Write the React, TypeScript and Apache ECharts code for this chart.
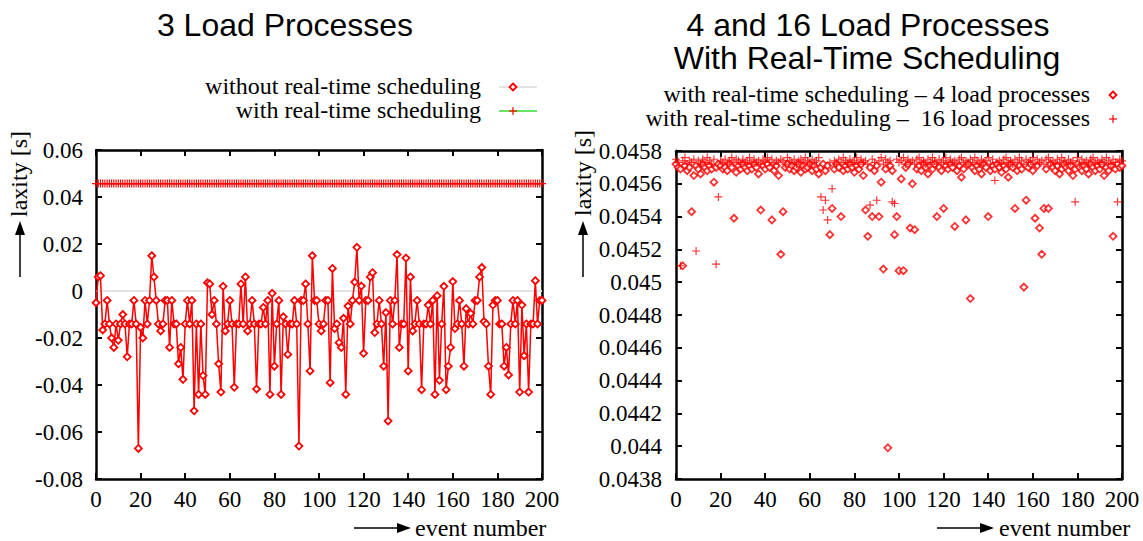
import React, { useEffect, useRef } from "react";
import * as echarts from "echarts";

// ---- Data ----
// Left chart: laxity [s] per event number 0..200, 3 load processes
const WITHOUT_RT_3 = [
  -0.005, 0.006, 0.0065, -0.0166, -0.014, -0.004, -0.014, -0.02, -0.024, -0.014,
  -0.021, -0.014, -0.01, -0.014, -0.028, -0.014, -0.014, -0.004, -0.014, -0.067,
  -0.0155, -0.02, -0.004, -0.014, -0.004, 0.015, 0.006, -0.004, -0.014, -0.017,
  -0.014, -0.004, -0.004, -0.024, -0.004, -0.014, -0.014, -0.031, -0.024, -0.0376,
  -0.014, -0.004, -0.014, -0.004, -0.051, -0.014, -0.044, -0.014, -0.036, -0.044,
  0.0035, 0.003, -0.01, -0.004, -0.014, -0.031, -0.043, 0.002, -0.017, -0.014,
  -0.004, -0.014, -0.041, -0.014, -0.014, 0.003, -0.014, 0.006, -0.017, -0.014,
  -0.004, -0.014, -0.0417, -0.014, -0.014, -0.007, -0.014, -0.004, -0.044, -0.001,
  -0.032, -0.014, -0.004, -0.044, -0.011, -0.014, -0.027, -0.014, -0.014, -0.004,
  -0.014, -0.066, -0.004, -0.004, 0.003, -0.014, -0.034, 0.015, -0.004, -0.004,
  -0.014, -0.017, -0.014, -0.004, -0.004, -0.039, 0.0096, -0.016, -0.014, -0.022,
  -0.024, -0.0116, -0.044, -0.0064, -0.014, -0.004, 0.0038, 0.0186, -0.004, 0.0021,
  -0.0265, -0.004, -0.004, 0.006, 0.0078, -0.0177, -0.014, -0.004, -0.014, -0.032,
  -0.0092, -0.0553, -0.004, -0.014, -0.004, 0.0155, -0.024, -0.014, -0.014, 0.014,
  -0.034, 0.006, -0.017, -0.014, -0.004, -0.014, -0.042, -0.014, -0.014, -0.006,
  -0.014, -0.004, -0.044, -0.002, -0.038, -0.014, 0.002, -0.042, -0.032, -0.024,
  0.004, -0.016, -0.014, -0.004, -0.014, -0.032, -0.0075, -0.014, -0.0095, -0.014,
  -0.004, -0.004, 0.006, 0.01, -0.013, -0.014, -0.032, -0.044, -0.006, -0.004,
  -0.004, -0.014, -0.014, -0.032, -0.024, -0.0357, -0.014, -0.004, -0.014, -0.004,
  -0.043, -0.006, -0.0275, -0.014, -0.043, -0.014, -0.014, 0.0044, -0.014, -0.004,
  -0.004,
];

const WITH_RT_3 = [
  0.0457, 0.0457, 0.0457, 0.0457, 0.0457, 0.0457, 0.0457, 0.0457, 0.0457, 0.0457,
  0.0457, 0.0457, 0.0457, 0.0457, 0.0457, 0.0457, 0.0457, 0.0457, 0.0457, 0.0457,
  0.0457, 0.0457, 0.0457, 0.0457, 0.0457, 0.0457, 0.0457, 0.0457, 0.0457, 0.0457,
  0.0457, 0.0457, 0.0457, 0.0457, 0.0457, 0.0457, 0.0457, 0.0457, 0.0457, 0.0457,
  0.0457, 0.0457, 0.0457, 0.0457, 0.0457, 0.0457, 0.0457, 0.0457, 0.0457, 0.0457,
  0.0457, 0.0457, 0.0457, 0.0457, 0.0457, 0.0457, 0.0457, 0.0457, 0.0457, 0.0457,
  0.0457, 0.0457, 0.0457, 0.0457, 0.0457, 0.0457, 0.0457, 0.0457, 0.0457, 0.0457,
  0.0457, 0.0457, 0.0457, 0.0457, 0.0457, 0.0457, 0.0457, 0.0457, 0.0457, 0.0457,
  0.0457, 0.0457, 0.0457, 0.0457, 0.0457, 0.0457, 0.0457, 0.0457, 0.0457, 0.0457,
  0.0457, 0.0457, 0.0457, 0.0457, 0.0457, 0.0457, 0.0457, 0.0457, 0.0457, 0.0457,
  0.0457, 0.0457, 0.0457, 0.0457, 0.0457, 0.0457, 0.0457, 0.0457, 0.0457, 0.0457,
  0.0457, 0.0457, 0.0457, 0.0457, 0.0457, 0.0457, 0.0457, 0.0457, 0.0457, 0.0457,
  0.0457, 0.0457, 0.0457, 0.0457, 0.0457, 0.0457, 0.0457, 0.0457, 0.0457, 0.0457,
  0.0457, 0.0457, 0.0457, 0.0457, 0.0457, 0.0457, 0.0457, 0.0457, 0.0457, 0.0457,
  0.0457, 0.0457, 0.0457, 0.0457, 0.0457, 0.0457, 0.0457, 0.0457, 0.0457, 0.0457,
  0.0457, 0.0457, 0.0457, 0.0457, 0.0457, 0.0457, 0.0457, 0.0457, 0.0457, 0.0457,
  0.0457, 0.0457, 0.0457, 0.0457, 0.0457, 0.0457, 0.0457, 0.0457, 0.0457, 0.0457,
  0.0457, 0.0457, 0.0457, 0.0457, 0.0457, 0.0457, 0.0457, 0.0457, 0.0457, 0.0457,
  0.0457, 0.0457, 0.0457, 0.0457, 0.0457, 0.0457, 0.0457, 0.0457, 0.0457, 0.0457,
  0.0457, 0.0457, 0.0457, 0.0457, 0.0457, 0.0457, 0.0457, 0.0457, 0.0457, 0.0457,
  0.0457,
];

const ZERO_AXIS = [0, 0];

// Right chart: real-time scheduling, 4 and 16 load processes
const RT_4_LOAD = [
  0.04572, 0.0457, 0.04569, 0.0451, 0.04571, 0.04568, 0.0457, 0.04543, 0.04565, 0.04571,
  0.04569, 0.04566, 0.04572, 0.0457, 0.04568, 0.04571, 0.04569, 0.04561, 0.0457, 0.04572,
  0.04571, 0.04569, 0.0457, 0.04568, 0.04572, 0.0457, 0.04539, 0.04567, 0.04571, 0.04569,
  0.04572, 0.0457, 0.04568, 0.04571, 0.04569, 0.04572, 0.0457, 0.04566, 0.04544, 0.04571,
  0.04569, 0.04572, 0.0457, 0.04538, 0.04568, 0.04571, 0.04565, 0.04517, 0.04543, 0.0457,
  0.04572, 0.04569, 0.04571, 0.04568, 0.0457, 0.04572, 0.04567, 0.04571, 0.04569, 0.0457,
  0.04572, 0.04568, 0.04571, 0.04569, 0.04566, 0.0457, 0.04572, 0.04568, 0.04571, 0.04529,
  0.04545, 0.04569, 0.04572, 0.0457, 0.0454, 0.04568, 0.04571, 0.04569, 0.04572, 0.0457,
  0.04567, 0.04571, 0.04569, 0.04572, 0.04565, 0.04544, 0.04528, 0.0457, 0.0454, 0.04568,
  0.04571, 0.0454, 0.04561, 0.04508, 0.04569, 0.04399, 0.04571, 0.04568, 0.04529, 0.0454,
  0.04507, 0.04563, 0.04507, 0.0457, 0.04572, 0.04533, 0.0456, 0.04532, 0.04569, 0.04571,
  0.04568, 0.04572, 0.0457, 0.04566, 0.04571, 0.04569, 0.04572, 0.0454, 0.0457, 0.04568,
  0.04545, 0.04571, 0.04569, 0.04572, 0.0457, 0.04534, 0.04568, 0.04571, 0.04564, 0.04569,
  0.04538, 0.04572, 0.0449, 0.0457, 0.04568, 0.04571, 0.04569, 0.04566, 0.04572, 0.0457,
  0.0454, 0.04568, 0.04571, 0.04569, 0.04572, 0.0457, 0.04567, 0.04571, 0.04569, 0.04564,
  0.04572, 0.0457, 0.04545, 0.04568, 0.04571, 0.04569, 0.04497, 0.0455, 0.0457, 0.04572,
  0.04568, 0.04539, 0.04571, 0.04533, 0.04517, 0.04545, 0.04569, 0.04545, 0.04572, 0.0457,
  0.04568, 0.04571, 0.04566, 0.04569, 0.04572, 0.0457, 0.04568, 0.04571, 0.04565, 0.04569,
  0.04572, 0.0457, 0.04568, 0.04571, 0.04569, 0.04566, 0.04572, 0.0457, 0.04568, 0.04571,
  0.04569, 0.04572, 0.04565, 0.0457, 0.04568, 0.04571, 0.04528, 0.04569, 0.04572, 0.0457,
  0.04571,
];

const RT_16_LOAD = [
  0.04575, 0.04573, 0.0451, 0.04574, 0.04576, 0.04572, 0.04574, 0.04573, 0.04575, 0.04519,
  0.04574, 0.04572, 0.04575, 0.04573, 0.04576, 0.04574, 0.04572, 0.04575, 0.04511, 0.04552,
  0.04574, 0.04573, 0.04575, 0.04572, 0.04574, 0.04576, 0.04573, 0.04575, 0.04574, 0.04572,
  0.04575, 0.04573, 0.04574, 0.04576, 0.04572, 0.04575, 0.04573, 0.04574, 0.04572, 0.04575,
  0.04574, 0.04576, 0.04573, 0.04575, 0.04572, 0.04574, 0.04573, 0.04575, 0.04574, 0.04572,
  0.04576, 0.04574, 0.04573, 0.04575, 0.04572, 0.04574, 0.04575, 0.04573, 0.04576, 0.04574,
  0.04572, 0.04575, 0.04573, 0.04574, 0.04576, 0.04552, 0.04544, 0.0455, 0.04538, 0.04573,
  0.04557, 0.04574, 0.04572, 0.04575, 0.04573, 0.04576, 0.04574, 0.04572, 0.04575, 0.04573,
  0.04574, 0.04576, 0.04572, 0.04575, 0.04573, 0.04574, 0.04572, 0.04547, 0.04575, 0.04573,
  0.0455, 0.04574, 0.04576, 0.04572, 0.04575, 0.04573, 0.04574, 0.04549, 0.04548, 0.04575,
  0.04573, 0.04574, 0.04576, 0.04572, 0.04575, 0.04573, 0.04574, 0.04572, 0.04575, 0.04576,
  0.04573, 0.04574, 0.04572, 0.04575, 0.04573, 0.04576, 0.04574, 0.04572, 0.04575, 0.04573,
  0.04574, 0.04576, 0.04572, 0.04575, 0.04573, 0.04574, 0.04572, 0.04575, 0.04576, 0.04573,
  0.04574, 0.04572, 0.04575, 0.04573, 0.04576, 0.04574, 0.04572, 0.04575, 0.04573, 0.04574,
  0.04576, 0.04572, 0.04575, 0.04562, 0.04573, 0.04574, 0.04572, 0.04575, 0.04576, 0.04573,
  0.04574, 0.04572, 0.04575, 0.04573, 0.04576, 0.04574, 0.04572, 0.04575, 0.04573, 0.04574,
  0.04576, 0.04572, 0.04575, 0.04573, 0.04574, 0.04572, 0.04575, 0.04576, 0.04573, 0.04574,
  0.04572, 0.04575, 0.04573, 0.04576, 0.04574, 0.04572, 0.04575, 0.04573, 0.04574, 0.04549,
  0.04576, 0.04572, 0.04575, 0.04573, 0.04574, 0.04572, 0.04575, 0.04576, 0.04573, 0.04574,
  0.04572, 0.04575, 0.04573, 0.04576, 0.04574, 0.04572, 0.04575, 0.04573, 0.04549, 0.04575,
  0.04574,
];

// Axis ranges [min, max, interval] and tick labels
const X_RANGE = [0, 200, 20];
const Y_LEFT_RANGE = [-0.08, 0.06, 0.02];
const Y_RIGHT_RANGE = [0.0438, 0.0458, 0.0002];
const X_TICKS = ["0", "20", "40", "60", "80", "100", "120", "140", "160", "180", "200"];
const Y_LEFT_TICKS = ["-0.08", "-0.06", "-0.04", "-0.02", "0", "0.02", "0.04", "0.06"];
const Y_RIGHT_TICKS = [
  "0.0438", "0.044", "0.0442", "0.0444", "0.0446", "0.0448",
  "0.045", "0.0452", "0.0454", "0.0456", "0.0458",
];

const TITLE_LEFT = "3 Load Processes";
const TITLE_RIGHT = ["4 and 16 Load Processes", "With Real-Time Scheduling"];
const LEGEND_LEFT = ["without real-time scheduling", "with real-time scheduling"];
const LEGEND_RIGHT = [
  "with real-time scheduling \u2013 4 load processes",
  "with real-time scheduling \u2013  16 load processes",
];
const Y_NAME = "laxity [s]";
const X_NAME = "event number";

const SERIF = "'Liberation Serif', 'Times New Roman', serif";
const SANS = "'Liberation Sans', Arial, sans-serif";
const PLUS = "path://M3,0h1v3h3v1h-3v3h-1v-3h-3v-1h3z";
const RED = "#f00";

const toPairs = (arr: number[]) => arr.map((v, i) => [i, v]);

function axisPair(gridIndex: number, range: number[], isX: boolean) {
  const common = {
    gridIndex,
    type: "value",
    min: range[0],
    max: range[1],
    interval: range[2],
    splitLine: { show: false },
    axisLabel: { show: false },
    axisLine: { show: true, onZero: false, lineStyle: { color: "#000", width: 2.5 } },
    axisTick: { show: true, inside: true, length: 6, lineStyle: { color: "#000", width: 2 } },
  };
  return [
    { ...common, position: isX ? "bottom" : "left" },
    { ...common, position: isX ? "top" : "right" },
  ];
}

function diamond(x: number, y: number) {
  return {
    type: "polygon",
    shape: { points: [[x, y - 3.5], [x + 3.5, y], [x, y + 3.5], [x - 3.5, y]] },
    style: { fill: "#fff", stroke: RED, lineWidth: 1.8 },
  };
}
function plus(x: number, y: number) {
  return {
    type: "group",
    children: [
      { type: "line", shape: { x1: x - 4, y1: y, x2: x + 4, y2: y }, style: { stroke: RED, lineWidth: 1.2 } },
      { type: "line", shape: { x1: x, y1: y - 4, x2: x, y2: y + 4 }, style: { stroke: RED, lineWidth: 1.2 } },
    ],
  };
}
function text(t: string, x: number, y: number, align: string, font: string, size: number, rotation = 0) {
  return {
    type: "text",
    x,
    y,
    rotation,
    silent: true,
    style: {
      text: t,
      fill: "#000",
      font: `${size}px ${font}`,
      textAlign: align,
      textVerticalAlign: "middle",
    },
  };
}
function upArrow(x: number, yBottom: number, yTip: number) {
  return [
    { type: "line", shape: { x1: x, y1: yBottom, x2: x, y2: yTip + 12 }, style: { stroke: "#000", lineWidth: 1.5 } },
    { type: "polygon", shape: { points: [[x, yTip], [x - 5, yTip + 14], [x + 5, yTip + 14]] }, style: { fill: "#000" } },
  ];
}
function rightArrow(xStart: number, xTip: number, y: number) {
  return [
    { type: "line", shape: { x1: xStart, y1: y, x2: xTip - 12, y2: y }, style: { stroke: "#000", lineWidth: 1.5 } },
    { type: "polygon", shape: { points: [[xTip, y], [xTip - 14, y - 5], [xTip - 14, y + 5]] }, style: { fill: "#000" } },
  ];
}

export default function App() {
  const ref = useRef<HTMLDivElement>(null);
  useEffect(() => {
    if (!ref.current) return;
    const chart = echarts.init(ref.current, null, { renderer: "svg" });
    const [xl0, xl1] = axisPair(0, X_RANGE, true);
    const [xr0, xr1] = axisPair(1, X_RANGE, true);
    const [yl0, yl1] = axisPair(0, Y_LEFT_RANGE, false);
    const [yr0, yr1] = axisPair(1, Y_RIGHT_RANGE, false);

    chart.setOption({
      animation: false,
      backgroundColor: "#fff",
      grid: [
        { left: 96, top: 150, width: 446, height: 329, containLabel: false },
        { left: 676, top: 151, width: 446, height: 328, containLabel: false },
      ],
      xAxis: [xl0, xl1, xr0, xr1],
      yAxis: [yl0, yl1, yr0, yr1],
      series: [
        {
          name: "zero",
          type: "line",
          xAxisIndex: 0,
          yAxisIndex: 0,
          data: [[X_RANGE[0], ZERO_AXIS[0]], [X_RANGE[1], ZERO_AXIS[1]]],
          showSymbol: false,
          silent: true,
          z: 1,
          lineStyle: { color: "#e4e4e4", width: 2 },
        },
        {
          name: LEGEND_LEFT[1],
          type: "line",
          xAxisIndex: 0,
          yAxisIndex: 0,
          data: toPairs(WITH_RT_3),
          symbol: PLUS,
          symbolSize: 8,
          z: 3,
          lineStyle: { color: "#33dd33", width: 1 },
          itemStyle: { color: RED },
        },
        {
          name: LEGEND_LEFT[0],
          type: "line",
          xAxisIndex: 0,
          yAxisIndex: 0,
          data: toPairs(WITHOUT_RT_3),
          symbol: "diamond",
          symbolSize: 7,
          z: 2,
          lineStyle: { color: RED, width: 1.5 },
          itemStyle: { color: "#fff", borderColor: RED, borderWidth: 1.8 },
        },
        {
          name: LEGEND_RIGHT[0],
          type: "scatter",
          xAxisIndex: 2,
          yAxisIndex: 2,
          data: toPairs(RT_4_LOAD),
          symbol: "diamond",
          symbolSize: 7,
          itemStyle: { color: "#fff", borderColor: RED, borderWidth: 1.8 },
        },
        {
          name: LEGEND_RIGHT[1],
          type: "scatter",
          xAxisIndex: 2,
          yAxisIndex: 2,
          data: toPairs(RT_16_LOAD),
          symbol: PLUS,
          symbolSize: 8,
          itemStyle: { color: RED },
        },
      ],
    });

    // Tick labels placed through the axes' own scales (serif font)
    const tickTexts: any[] = [];
    const addX = (axisIdx: number, yAxisIdx: number) => {
      X_TICKS.forEach((lab) => {
        const p = chart.convertToPixel({ xAxisIndex: axisIdx, yAxisIndex: yAxisIdx }, [Number(lab), 0]) as number[];
        tickTexts.push(text(lab, p[0], 499, "center", SERIF, 23));
      });
    };
    const addY = (yAxisIdx: number, xAxisIdx: number, labels: string[], xPos: number) => {
      labels.forEach((lab) => {
        const p = chart.convertToPixel({ xAxisIndex: xAxisIdx, yAxisIndex: yAxisIdx }, [0, Number(lab)]) as number[];
        tickTexts.push(text(lab, xPos, p[1], "right", SERIF, 23));
      });
    };
    addX(0, 0);
    addX(2, 2);
    addY(0, 0, Y_LEFT_TICKS, 83);
    addY(2, 2, Y_RIGHT_TICKS, 662);

    chart.setOption({
      graphic: [
        text(TITLE_LEFT, 285, 25, "center", SANS, 32),
        text(TITLE_RIGHT[0], 868, 25, "center", SANS, 32),
        text(TITLE_RIGHT[1], 867, 58, "center", SANS, 32),
        // left legend
        text(LEGEND_LEFT[0], 481, 86, "right", SERIF, 24),
        { type: "line", shape: { x1: 499, y1: 87, x2: 537, y2: 87 }, style: { stroke: "#e4e4e4", lineWidth: 2 } },
        diamond(513, 87),
        text(LEGEND_LEFT[1], 481, 110, "right", SERIF, 24),
        { type: "line", shape: { x1: 499, y1: 111, x2: 537, y2: 111 }, style: { stroke: "#33dd33", lineWidth: 1.5 } },
        plus(513, 111),
        // right legend
        text(LEGEND_RIGHT[0], 1090, 94, "right", SERIF, 24),
        diamond(1113, 95),
        text(LEGEND_RIGHT[1], 1090, 118, "right", SERIF, 24),
        plus(1113, 119),
        // axis names
        text(Y_NAME, 19, 174, "center", SERIF, 24, Math.PI / 2),
        ...upArrow(20, 277, 221),
        text(Y_NAME, 583, 173, "center", SERIF, 24, Math.PI / 2),
        ...upArrow(583, 277, 221),
        ...rightArrow(354, 411, 528),
        text(X_NAME, 415, 528, "left", SERIF, 24),
        ...rightArrow(937, 994, 528),
        text(X_NAME, 999, 528, "left", SERIF, 24),
        ...tickTexts,
      ],
    });
    return () => chart.dispose();
  }, []);
  return (
    <div
      ref={ref}
      style={{ position: "fixed", left: 0, top: 0, width: 1143, height: 541, background: "#fff" }}
    />
  );
}
